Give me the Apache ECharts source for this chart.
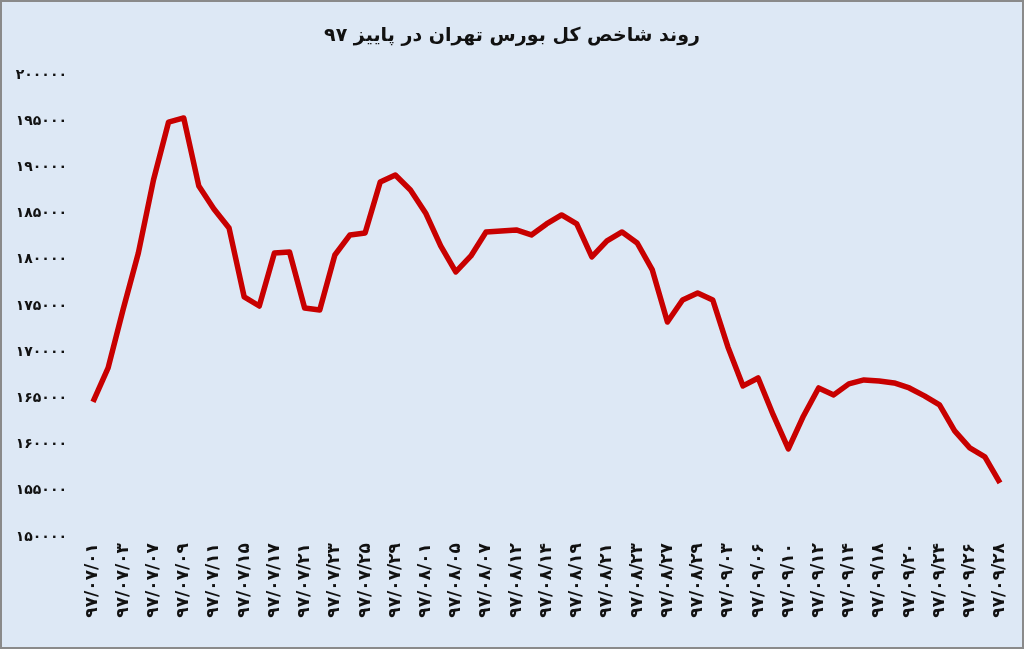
<!DOCTYPE html>
<html>
<head>
    <meta charset="utf-8" />
    <title>روند شاخص کل بورس تهران</title>
    <script src="https://cdn.jsdelivr.net/npm/echarts@6/dist/echarts.min.js"></script>
    <style>
        html, body { margin: 0; padding: 0; background: #fff; }
        #chart { width: 1020px; height: 645px; border: 2px solid #8a8a8a; background: #dde8f5; }
    </style>
</head>
<body>
    <div id="chart"></div>
    <script>
        // تاریخ‌های نمایش داده شده روی محور (هر دو روز معاملاتی یکی)
        const dateLabels = ['97/07/01', '97/07/03', '97/07/07', '97/07/09', '97/07/11', '97/07/15', '97/07/17', '97/07/21',
            '97/07/23', '97/07/25', '97/07/29', '97/08/01', '97/08/05', '97/08/07', '97/08/12', '97/08/14', '97/08/19',
            '97/08/21', '97/08/23', '97/08/27', '97/08/29', '97/09/03', '97/09/06', '97/09/10', '97/09/12', '97/09/14',
            '97/09/18', '97/09/20', '97/09/24', '97/09/26', '97/09/28'];
        // مقادیر شاخص
        const indexValues = [164620, 168300, 174680, 180740, 188640, 194910, 195350, 187990, 185500, 183440,
            175980, 175000, 180740, 180850, 174790, 174570, 180520, 182690, 182900, 188420,
            189180, 187560, 185070, 181500, 178690, 180420, 183010, 183120, 183230, 182690,
            183880, 184850, 183880, 180310, 182040, 183010, 181820, 178900, 173270, 175650,
            176410, 175650, 170570, 166350, 167210, 163210, 159530, 163100, 166130, 165380,
            166570, 167000, 166890, 166670, 166130, 165270, 164290, 161480, 159640, 158670, 155860];

        const faDigits = s => String(s).replace(/\d/g, d => '۰۱۲۳۴۵۶۷۸۹'[d]);
        // روزهای بین برچسب‌ها بدون نام
        const categories = indexValues.map((v, i) => i % 2 === 0 ? dateLabels[i / 2] : '');

        var myChart = echarts.init(document.getElementById('chart'));
        option = {
            backgroundColor: '#dde8f5',
            title: {
                text: 'روند شاخص کل بورس تهران در پاییز ۹۷',
                left: 'center',
                top: 20,
                textStyle: { fontFamily: 'DejaVu Sans', fontSize: 19, fontWeight: 'bold', color: '#111' }
            },
            grid: { left: 91, right: 22, top: 73, bottom: 110 },
            xAxis: {
                type: 'category',
                boundaryGap: false,
                data: categories,
                axisLine: { show: false },
                axisTick: { show: false },
                axisLabel: {
                    interval: 1,
                    rotate: 90,
                    margin: 6,
                    fontFamily: 'DejaVu Sans',
                    fontSize: 17,
                    fontWeight: 'bold',
                    color: '#111',
                    formatter: v => faDigits(v)
                }
            },
            yAxis: {
                type: 'value',
                min: 150000,
                max: 200000,
                interval: 5000,
                splitLine: { show: false },
                axisLine: { show: false },
                axisLabel: {
                    margin: 26,
                    fontFamily: 'DejaVu Sans',
                    fontSize: 14,
                    fontWeight: 'bold',
                    color: '#111',
                    formatter: v => faDigits(v)
                }
            },
            series: [{
                type: 'line',
                data: indexValues,
                symbol: 'none',
                lineStyle: { color: '#c80000', width: 5.5, join: 'round' }
            }]
        };
        myChart.setOption(option);
    </script>
</body>
</html>
